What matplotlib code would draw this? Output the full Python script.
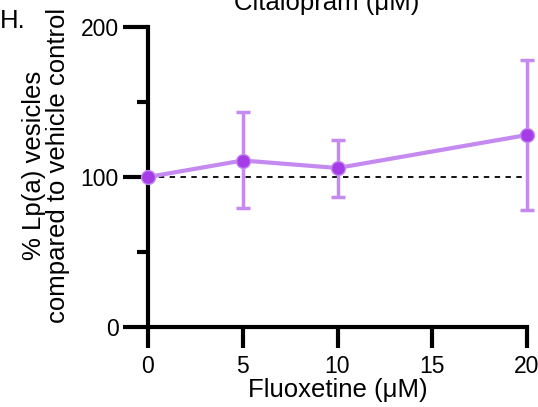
import matplotlib.pyplot as plt
import numpy as np
from matplotlib.ticker import MultipleLocator

plt.rcParams['font.family'] = ['Liberation Sans', 'DejaVu Sans']

# dose (uM) and % of vehicle control
dose = [0, 5, 10, 20]
mean = [100, 111, 106, 128]
err_hi = [100, 143.5, 125, 178]
err_lo = [100, 79.5, 87, 78]

line_col = '#c48af0'
dot_col = '#a63be8'

fig = plt.figure(figsize=(5.38, 4.07), dpi=100)
ax = fig.add_axes([148/538, 80/407, 379/538, 300/407])

yerr = [np.array(mean) - np.array(err_lo), np.array(err_hi) - np.array(mean)]
ax.plot([0, 20], [100, 100], ls=(0, (3, 3)), color='black', lw=1.3, zorder=2)
ax.errorbar(dose, mean, yerr=yerr, color=line_col, lw=3, elinewidth=2.5,
            capsize=5, capthick=2.5, marker='o', ms=10, mfc=dot_col, mec=line_col,
            clip_on=False, zorder=3)

ax.set_xlim(0, 20)
ax.set_ylim(0, 200)
ax.set_xticks([0, 5, 10, 15, 20])
ax.set_yticks([0, 100, 200])
ax.yaxis.set_minor_locator(MultipleLocator(50))

for s in ['top', 'right']:
    ax.spines[s].set_visible(False)
for s in ['left', 'bottom']:
    ax.spines[s].set_linewidth(3)
ax.tick_params(which='major', length=15, width=3, labelsize=16.5)
ax.tick_params(axis='x', which='major', pad=5)
ax.tick_params(axis='y', which='major', length=18, pad=3)
ax.tick_params(which='minor', length=8, width=3)

ax.set_xlabel('Fluoxetine (μM)', fontsize=18.5, labelpad=0)
ax.set_ylabel('% Lp(a) vesicles\ncompared to vehicle control', fontsize=18.5,
              linespacing=1.0, va='center')
ax.yaxis.set_label_coords(-0.27, 0.54)

fig.text(327/538, 1 - 10/407, 'Citalopram (μM)', fontsize=18.5, ha='center', va='baseline')
fig.text(0.0, 1 - 28/407, 'H.', fontsize=18.5, ha='left', va='baseline')

fig.savefig('out.png', dpi=100)
